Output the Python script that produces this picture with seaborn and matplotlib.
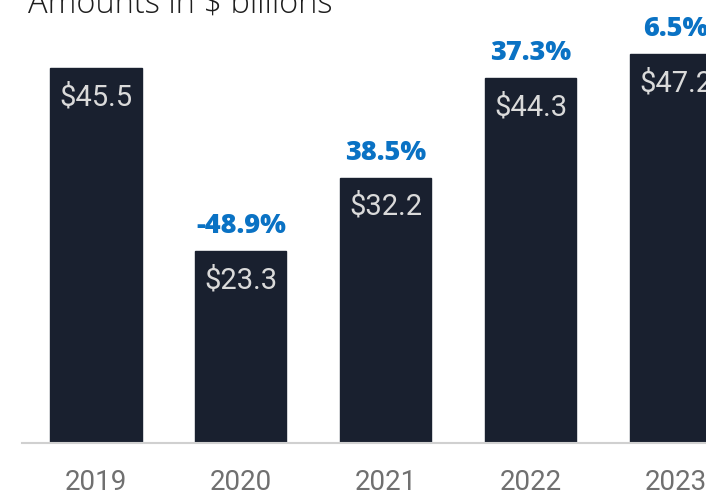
import matplotlib
matplotlib.use("Agg")
import matplotlib.pyplot as plt
import seaborn as sns
import pandas as pd

years = ["2019", "2020", "2021", "2022", "2023"]
values = [45.5, 23.3, 32.2, 44.3, 47.2]
value_labels = ["$45.5", "$23.3", "$32.2", "$44.3", "$47.2"]
pct_labels = ["", "-48.9%", "38.5%", "37.3%", "6.5%"]
title = "Amounts in $ billions"

sns.set_theme(style="white")
plt.rcParams['font.family'] = ['Roboto', 'DejaVu Sans']

df = pd.DataFrame({"year": years, "value": values})

fig = plt.figure(figsize=(7.06, 4.92), dpi=100)
ax = fig.add_axes([22/706, 49/492, 684/706, 443/492])

sns.barplot(data=df, x="year", y="value", color="#19202f", width=0.63,
            saturation=1, ax=ax, edgecolor="#19202f")

ax.set_xlim(-0.51, 4.21)
ax.set_ylim(0, 53.8)
ax.set_xlabel("")
ax.set_ylabel("")
ax.set_yticks([])
for s in ["top", "right", "left"]:
    ax.spines[s].set_visible(False)
ax.spines["bottom"].set_color("#d0d0d0")
ax.spines["bottom"].set_linewidth(1.5)
ax.tick_params(axis="x", length=0, pad=19, labelsize=20, labelcolor="#707070")

for i, (v, vl, pl) in enumerate(zip(values, value_labels, pct_labels)):
    ax.annotate(vl, (i, v), xytext=(0, -29), textcoords="offset pixels",
                ha="center", va="center", color="#dadada", fontsize=21,
                fontweight="normal", annotation_clip=False)
    if pl:
        ax.annotate(pl, (i, v), xytext=(0, 25), textcoords="offset pixels",
                    ha="center", va="center", color="#0a72c4", fontsize=19.5,
                    fontweight=800, family=["Open Sans", "DejaVu Sans"],
                    annotation_clip=False)

fig.text(28/706, 1 - 4/492, title, ha="left", va="center", fontsize=23.5,
         color="#1e1e1e", fontweight="light",
         family=["Open Sans", "DejaVu Sans"])

fig.savefig("out.png", dpi=100)
